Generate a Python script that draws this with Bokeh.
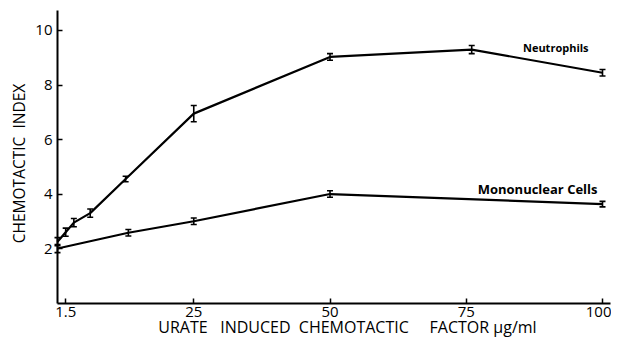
import math
from bokeh.plotting import figure
from bokeh.models import (ColumnDataSource, Whisker, TeeHead, Label, FixedTicker,
                          Range1d)
from bokeh.embed import file_html
from bokeh.resources import INLINE

# ---- data ----
dose_neut = [0, 1.5, 3, 6, 12.5, 25, 50, 76, 100]
index_neut = [2.25, 2.6, 2.95, 3.3, 4.55, 6.95, 9.03, 9.3, 8.45]
err_neut = [0.15, 0.15, 0.15, 0.15, 0.1, 0.3, 0.12, 0.15, 0.12]

dose_mono = [0, 13, 25, 50, 100]
index_mono = [2.0, 2.58, 3.0, 4.0, 3.63]
err_mono = [0.15, 0.12, 0.12, 0.12, 0.1]

x_ticks = [1.5, 25, 50, 75, 100]
y_ticks = [2, 4, 6, 8, 10]

series_labels = ["Neutrophils", "Mononuclear Cells"]
NB = "\u00a0"
x_title = "URATE" + NB * 3 + "INDUCED" + NB * 2 + "CHEMOTACTIC" + NB * 5 + "FACTOR" + NB + "\u00b5g/ml"
y_title = "CHEMOTACTIC" + NB * 2 + "INDEX"

FONT = "Open Sans"

p = figure(width=611, height=338, output_backend="svg", toolbar_location=None,
           x_range=Range1d(-10.46, 101.65), y_range=Range1d(-1.30, 11.10),
           min_border=0)
p.outline_line_color = None
p.grid.visible = False
p.background_fill_color = "white"

def add_series(xs, ys, es, label, lx, ly, size):
    src = ColumnDataSource(dict(x=xs, y=ys,
                                lower=[a - b for a, b in zip(ys, es)],
                                upper=[a + b for a, b in zip(ys, es)]))
    p.line("x", "y", source=src, line_color="black", line_width=2.2)
    w = Whisker(base="x", lower="lower", upper="upper", source=src,
                line_color="black", line_width=1.6,
                upper_head=TeeHead(size=6, line_width=1.6, line_color="black"),
                lower_head=TeeHead(size=6, line_width=1.6, line_color="black"))
    p.add_layout(w)
    p.add_layout(Label(x=lx, y=ly, text=label, text_font=FONT,
                       text_font_size=size, text_baseline="middle",
                       text_color="black", text_font_style="bold"))

add_series(dose_neut, index_neut, err_neut, series_labels[0], 85.4, 9.36, "11px")
add_series(dose_mono, index_mono, err_mono, series_labels[1], 77.1, 4.17, "13px")

for ax in (p.xaxis[0], p.yaxis[0]):
    ax.fixed_location = 0
    ax.axis_line_width = 2
    ax.axis_line_color = "black"
    ax.major_tick_in = 5
    ax.major_tick_out = 0
    ax.major_tick_line_width = 1.5
    ax.minor_tick_line_color = None
    ax.major_label_text_font = FONT
    ax.major_label_text_font_size = "15px"
    ax.major_label_text_color = "black"

p.xaxis.bounds = (0, 101.5)
p.yaxis.bounds = (0, 10.75)
p.xaxis.ticker = FixedTicker(ticks=x_ticks)
p.yaxis.ticker = FixedTicker(ticks=y_ticks)
p.xaxis.major_label_overrides = {1.5: "1.5", 25: "25", 50: "50", 75: "75", 100: "100"}
p.xaxis.major_label_standoff = 4
p.yaxis.major_label_standoff = 5

# axis titles
p.add_layout(Label(x=18.5, y=-0.88, text=x_title, text_font=FONT,
                   text_font_size="16px", text_align="left",
                   text_baseline="middle", text_color="black"))
p.add_layout(Label(x=-7.06, y=5.12, text=y_title, text_font=FONT,
                   text_font_size="15.5px", text_align="center",
                   text_baseline="middle", text_color="black",
                   angle=math.pi / 2))

open("out.html", "w").write(file_html(p, INLINE))
